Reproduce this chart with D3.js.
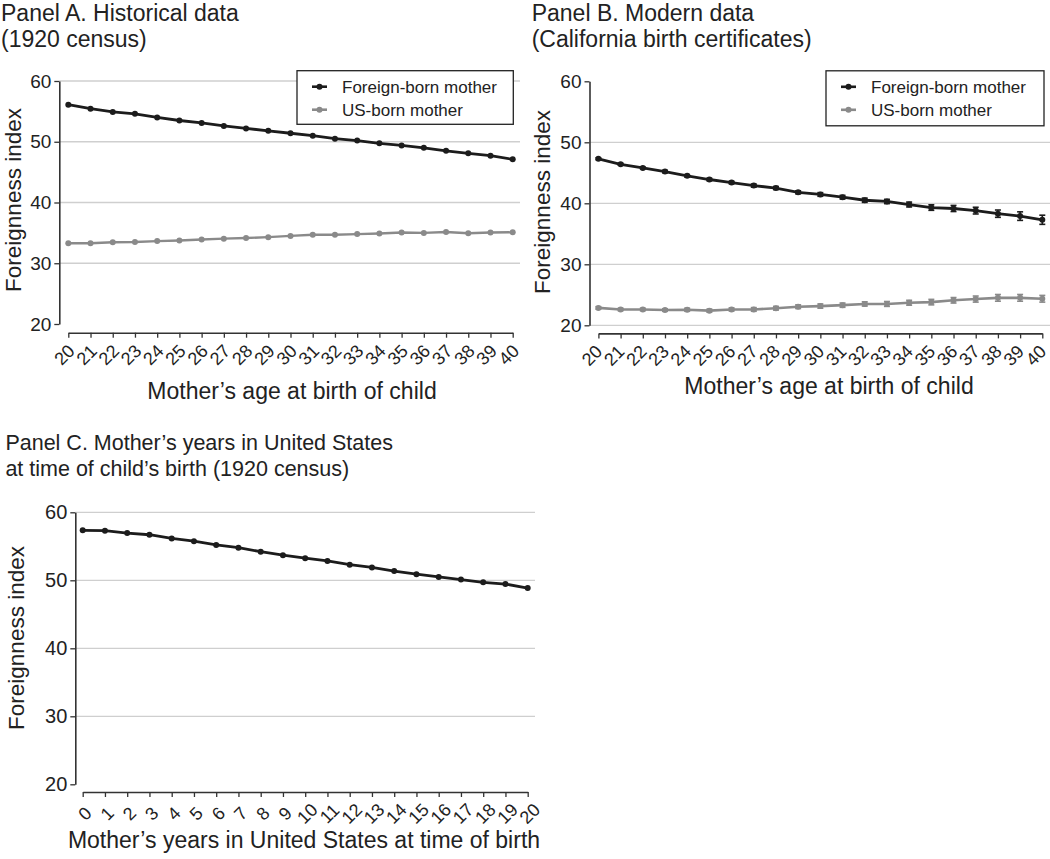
<!DOCTYPE html>
<html>
<head>
<meta charset="utf-8">
<script src="https://cdn.jsdelivr.net/npm/d3@7"></script>
<style>
  body { margin: 0; background: #fff; }
  svg { font-family: "Liberation Sans", Arial, Helvetica, sans-serif; }
</style>
</head>
<body>
<svg id="chart" width="1050" height="859"></svg>
<script>
// categories
const ages = [20, 21, 22, 23, 24, 25, 26, 27, 28, 29, 30, 31, 32, 33, 34, 35, 36, 37, 38, 39, 40]
const yearsInUS = [0, 1, 2, 3, 4, 5, 6, 7, 8, 9, 10, 11, 12, 13, 14, 15, 16, 17, 18, 19, 20]
const yTicks = [20, 30, 40, 50, 60]
const legendLabels = ["Foreign-born mother", "US-born mother"]

// panel A, 1920 census
const histForeign = [56.1, 55.45, 54.9, 54.6, 54.0, 53.5, 53.1, 52.6, 52.2, 51.8, 51.4, 51.0, 50.5, 50.2, 49.75, 49.4, 49.0, 48.5, 48.1, 47.7, 47.1]
const histUS = [33.3, 33.3, 33.45, 33.5, 33.65, 33.75, 33.9, 34.05, 34.15, 34.3, 34.5, 34.7, 34.7, 34.8, 34.9, 35.05, 35.0, 35.15, 34.95, 35.05, 35.1]

// panel B, california birth certificates
const modernForeign = [47.3, 46.4, 45.8, 45.2, 44.5, 43.9, 43.4, 42.9, 42.5, 41.8, 41.45, 41.0, 40.5, 40.3, 39.8, 39.3, 39.15, 38.8, 38.3, 37.9, 37.3]
const modernForeignErr = [0.15, 0.15, 0.15, 0.2, 0.2, 0.2, 0.2, 0.25, 0.25, 0.25, 0.3, 0.3, 0.35, 0.35, 0.4, 0.45, 0.5, 0.55, 0.6, 0.7, 0.75]
const modernUS = [22.85, 22.6, 22.6, 22.5, 22.55, 22.4, 22.6, 22.6, 22.8, 23.05, 23.15, 23.3, 23.5, 23.5, 23.7, 23.8, 24.1, 24.3, 24.5, 24.5, 24.35]
const modernUSErr = [0.2, 0.2, 0.2, 0.2, 0.25, 0.25, 0.25, 0.3, 0.3, 0.3, 0.35, 0.35, 0.35, 0.4, 0.4, 0.45, 0.45, 0.5, 0.55, 0.55, 0.55]

// panel C, years in US
const yearsForeign = [57.35, 57.3, 56.95, 56.7, 56.15, 55.75, 55.2, 54.8, 54.2, 53.7, 53.25, 52.85, 52.3, 51.9, 51.35, 50.9, 50.5, 50.1, 49.7, 49.45, 48.85]

const dark = "#1c1c1c"
const grey = "#8a8a8a"
const axisCol = "#333"

const svg = d3.select("#chart")

function drawPanel(p) {
  const g = svg.append("g")

  const x = d3.scaleLinear().domain(p.xDomain).range(p.xRange)
  const y = d3.scaleLinear().domain([20, 60]).range(p.yRange)

  // gridlines
  g.selectAll(".grid")
    .data(p.grid)
    .join("line")
    .attr("x1", p.yAxisX).attr("x2", p.gridEnd)
    .attr("y1", d => y(d)).attr("y2", d => y(d))
    .attr("stroke", "#cfcfcf")
    .attr("stroke-width", 1.3)

  // y axis
  const yAxis = d3.axisLeft(y).tickValues(yTicks).tickSize(5).tickSizeOuter(0).tickPadding(3)
  const ya = g.append("g")
    .attr("transform", `translate(${p.yAxisX},0)`)
    .call(yAxis)
  ya.attr("font-family", null)
  ya.select(".domain").attr("stroke", axisCol).attr("stroke-width", 1.6)
  ya.selectAll(".tick line").attr("stroke", axisCol).attr("stroke-width", 1.3)
  ya.selectAll("text").attr("font-size", p.yFont).attr("fill", "#222")

  // x axis
  const xAxis = d3.axisBottom(x).tickValues(p.xTicks).tickSize(5).tickSizeOuter(0)
  const xa = g.append("g")
    .attr("transform", `translate(0,${p.xAxisY})`)
    .call(xAxis)
  xa.attr("font-family", null)
  xa.select(".domain").attr("stroke", axisCol).attr("stroke-width", 1.6)
  xa.selectAll(".tick line").attr("stroke", axisCol).attr("stroke-width", 1.3)
  xa.selectAll("text")
    .attr("font-size", 18)
    .attr("fill", "#222")
    .attr("x", 0).attr("y", 0).attr("dy", "0.35em")
    .style("text-anchor", "middle")
    .attr("transform", `translate(${p.labelOff[0]},${p.labelOff[1]}) rotate(-45)`)

  // titles
  const t = g.append("text")
    .attr("font-size", p.titleFont)
    .attr("fill", "#222")
  p.title.forEach((line, i) => {
    t.append("tspan").attr("x", p.titlePos[0]).attr("y", p.titlePos[1] + i * 25.5).text(line)
  })

  g.append("text")
    .attr("font-size", 23)
    .attr("fill", "#222")
    .attr("text-anchor", "middle")
    .attr("x", p.xTitle[0]).attr("y", p.xTitle[1])
    .text(p.xLabel)

  g.append("text")
    .attr("font-size", 22.5)
    .attr("fill", "#222")
    .attr("text-anchor", "middle")
    .attr("transform", `translate(${p.yTitle[0]},${p.yTitle[1]}) rotate(-90)`)
    .text("Foreignness index")

  // series
  const line = d3.line()
    .x((d, i) => x(p.xTicks[i]))
    .y(d => y(d))

  p.series.forEach(s => {
    if (s.err) {
      const eb = g.append("g").attr("stroke", s.color).attr("stroke-width", 1.6)
      s.values.forEach((v, i) => {
        const cx = x(p.xTicks[i])
        eb.append("line").attr("x1", cx).attr("x2", cx).attr("y1", y(v - s.err[i])).attr("y2", y(v + s.err[i]))
        eb.append("line").attr("x1", cx - 3).attr("x2", cx + 3).attr("y1", y(v - s.err[i])).attr("y2", y(v - s.err[i]))
        eb.append("line").attr("x1", cx - 3).attr("x2", cx + 3).attr("y1", y(v + s.err[i])).attr("y2", y(v + s.err[i]))
      })
    }
    g.append("path")
      .datum(s.values)
      .attr("d", line)
      .attr("fill", "none")
      .attr("stroke", s.color)
      .attr("stroke-width", s.width)
    g.selectAll(null)
      .data(s.values)
      .join("circle")
      .attr("cx", (d, i) => x(p.xTicks[i]))
      .attr("cy", d => y(d))
      .attr("r", 3)
      .attr("fill", s.color)
  })

  // legend
  if (p.legend) {
    const [lx, ly, lw, lh] = p.legend
    const lg = g.append("g").attr("transform", `translate(${lx},${ly})`)
    lg.append("rect")
      .attr("width", lw).attr("height", lh)
      .attr("fill", "#fff")
      .attr("stroke", "#222")
      .attr("stroke-width", 1.3)
    const colors = [dark, grey]
    legendLabels.forEach((lab, i) => {
      const yy = 16 + i * 23
      lg.append("line")
        .attr("x1", 15).attr("x2", 30).attr("y1", yy).attr("y2", yy)
        .attr("stroke", colors[i]).attr("stroke-width", 2.6)
      lg.append("circle").attr("cx", 22.5).attr("cy", yy).attr("r", 3).attr("fill", colors[i])
      lg.append("text")
        .attr("x", 45).attr("y", yy).attr("dy", "0.35em")
        .attr("font-size", 17)
        .attr("fill", "#222")
        .text(lab)
    })
  }
}

drawPanel({
  xDomain: [20, 40], xRange: [68.3, 512.7], yRange: [324, 81],
  xTicks: ages, yAxisX: 59.3, xAxisY: 332.7, gridEnd: 520, grid: [30, 40, 50, 60],
  yFont: 19, labelOff: [-4.5, 22],
  title: ["Panel A. Historical data", "(1920 census)"], titlePos: [1, 21], titleFont: 23,
  xLabel: "Mother\u2019s age at birth of child", xTitle: [292, 399],
  yTitle: [21, 200],
  series: [
    { values: histForeign, color: dark, width: 2.8 },
    { values: histUS, color: grey, width: 2.4 }
  ],
  legend: [297, 70.7, 216.3, 53.6]
})

drawPanel({
  xDomain: [20, 40], xRange: [598.4, 1042.3], yRange: [325.3, 81.3],
  xTicks: ages, yAxisX: 589.5, xAxisY: 333.4, gridEnd: 1050, grid: [20, 30, 40, 50],
  yFont: 19, labelOff: [-7, 22],
  title: ["Panel B. Modern data", "(California birth certificates)"], titlePos: [531.7, 21], titleFont: 23,
  xLabel: "Mother\u2019s age at birth of child", xTitle: [829, 394],
  yTitle: [550, 202],
  series: [
    { values: modernForeign, err: modernForeignErr, color: dark, width: 2.8 },
    { values: modernUS, err: modernUSErr, color: grey, width: 2.6 }
  ],
  legend: [826, 70.8, 218, 55]
})

drawPanel({
  xDomain: [0, 20], xRange: [82.7, 527.7], yRange: [784.3, 512.3],
  xTicks: yearsInUS, yAxisX: 75.3, xAxisY: 792, gridEnd: 535, grid: [30, 40, 50, 60],
  yFont: 20, labelOff: [1.5, 21.5],
  title: ["Panel C. Mother\u2019s years in United States", "at time of child\u2019s birth (1920 census)"], titlePos: [5.4, 450], titleFont: 21.5,
  xLabel: "Mother\u2019s years in United States at time of birth", xTitle: [304, 848],
  yTitle: [24, 638],
  series: [
    { values: yearsForeign, color: dark, width: 2.8 }
  ]
})
</script>
</body>
</html>
